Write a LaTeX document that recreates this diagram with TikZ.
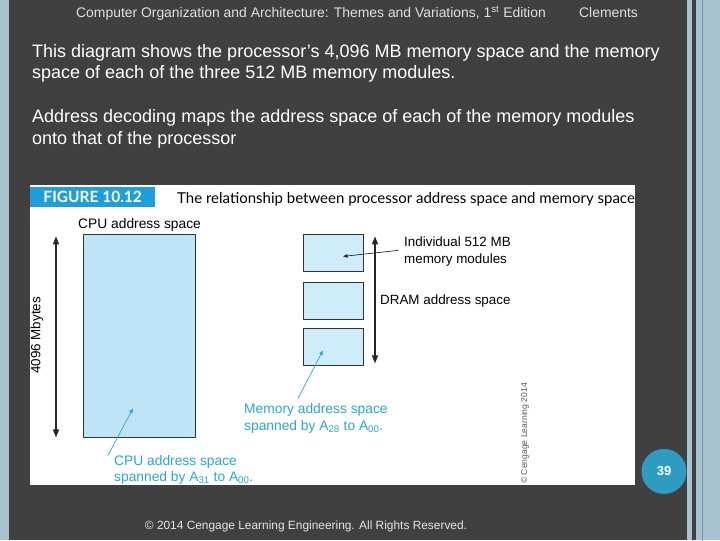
\documentclass[tikz,border=0pt]{standalone}
\usepackage{fontspec}
\setmainfont{Liberation Sans}
\newfontfamily\figfont{Liberation Sans}
\newfontfamily\capfont{Lato}
\usetikzlibrary{arrows.meta}
\definecolor{bgdark}{HTML}{404040}
\definecolor{stripl}{HTML}{A8C3CF}
\definecolor{stripline}{HTML}{6F98AC}
\definecolor{cpufill}{HTML}{BDE3F6}
\definecolor{modfill}{HTML}{CFECFA}
\definecolor{annot}{HTML}{2AA5D5}
\definecolor{headblue}{HTML}{1E9FDB}
\definecolor{slideblue}{HTML}{2E9CC0}
\tikzset{
  box/.style={draw=black!80, line width=1pt, fill=modfill, inner sep=0pt,
    minimum width=60pt, minimum height=37pt, anchor=north west},
  lab/.style={font=\figfont\fontsize{13.4}{15}\selectfont, anchor=base west, inner sep=0pt},
  note/.style={lab, text=annot, font=\figfont\fontsize{13.8}{15}\selectfont},
  body/.style={font=\fontsize{18}{21}\selectfont, text=white, anchor=base west, inner sep=0pt},
  span/.style={{Triangle[length=8pt,width=6pt]}-{Triangle[length=8pt,width=6pt]}, line width=1.2pt, black!85},
  pointer/.style={-{Triangle[length=4.5pt,width=3.5pt]}, line width=0.7pt},
}
\begin{document}
\begin{tikzpicture}[x=1pt, y=-1pt, line cap=round, line join=round]
  % the slide: dark ground, pale bands at the sides
  \fill[bgdark] (0,0) rectangle (720,540);
  \fill[stripl] (0,0) rectangle (9,540);
  \fill[stripl] (687,0) rectangle (692,540);
  \fill[stripl] (696,0) rectangle (720,540);
  \draw[stripline, line width=0.8pt] (702,0) -- (702,540);
  \useasboundingbox (0,0) rectangle (720,540);
  % header line
  \node[anchor=base west, inner sep=0pt, text=white!88!black, font=\fontsize{13.9}{15}\selectfont] (book) at (76,17)
    {Computer Organization and Architecture: Themes and Variations, 1\textsuperscript{st} Edition};
  \node[anchor=base west, inner sep=0pt, text=white!88!black, font=\fontsize{13.9}{15}\selectfont] (author) at (579,17) {Clements};
  % the slide text
  \node[body] (line1) at (32,57) {This diagram shows the processor’s 4,096 MB memory space and the memory};
  \node[body] (line2) at (32,78) {space of each of the three 512 MB memory modules.};
  \node[body] (line3) at (32,122) {Address decoding maps the address space of each of the memory modules};
  \node[body] (line4) at (32,144) {onto that of the processor};
  % the figure, on white
  \fill[white] (30,185) rectangle (635,485);
  \node[fill=headblue, anchor=north west, minimum width=125pt, minimum height=20pt, inner sep=0pt,
    text=white, font=\capfont\bfseries\fontsize{15.5}{17}\selectfont] (figno) at (30,186) {FIGURE 10.12};
  \node[anchor=base west, inner sep=0pt, font=\capfont\fontsize{15}{17}\selectfont] (title) at (177,203)
    {The relationship between processor address space and memory space};
  % CPU side
  \node[draw=black!80, line width=1pt, fill=cpufill, anchor=north west, minimum width=112pt,
    minimum height=203pt, inner sep=0pt] (cpu) at (83,234) {};
  \node[lab, font=\figfont\fontsize{13.8}{15}\selectfont] (cpulab) at (78,228) {CPU address space};
  \coordinate (cputop) at (56,236);
  \coordinate (cpubot) at (56,437);
  \draw[span] (cputop) -- (cpubot);
  \node[rotate=90, inner sep=0pt, font=\figfont\fontsize{13.4}{15}\selectfont] (mbytes) at (37,335) {4096 Mbytes};
  % the three modules
  \foreach \n/\y in {1/234, 2/282, 3/328} {
    \node[box] (mod\n) at (303,\y) {};
  }
  \coordinate (dramtop) at (375,236);
  \coordinate (drambot) at (375,363);
  \draw[span] (dramtop) -- (drambot);
  \node[lab] (indiv) at (404,246) {Individual 512 MB};
  \node[lab] (indiv2) at (404,263) {memory modules};
  \node[lab] (dram) at (380,304) {DRAM address space};
  \coordinate (indivtail) at (398,250);
  \coordinate (indivtip) at (343,256);
  \draw[pointer, black!85] (indivtail) -- (indivtip);
  % blue notes
  \node[note] (memnote) at (244,413) {Memory address space};
  \node[note] (memnote2) at (244,430) {spanned by A\textsubscript{28} to A\textsubscript{00}.};
  \coordinate (memtail) at (298,398);
  \coordinate (memtip) at (323,350);
  \draw[pointer, annot] (memtail) -- (memtip);
  \node[note] (cpunote) at (114,465) {CPU address space};
  \node[note] (cpunote2) at (114,481) {spanned by A\textsubscript{31} to A\textsubscript{00}.};
  \coordinate (cputail) at (108,455);
  \coordinate (cputip) at (133,408);
  \draw[pointer, annot] (cputail) -- (cputip);
  \node[rotate=90, inner sep=0pt, text=black!65, font=\figfont\fontsize{8.6}{10}\selectfont] (credit) at (525,433)
    {\textcopyright{} Cengage Learning 2014};
  % page number and footer
  \node[circle, fill=slideblue, minimum size=45pt, inner sep=0pt, text=white,
    font=\bfseries\fontsize{13}{15}\selectfont] (slideno) at (664,471) {39};
  \node[anchor=base, inner sep=0pt, text=white!90!black, font=\fontsize{11.9}{14}\selectfont] (footer) at (306,529)
    {\textcopyright{} 2014 Cengage Learning Engineering. All Rights Reserved.};
\end{tikzpicture}
\end{document}
